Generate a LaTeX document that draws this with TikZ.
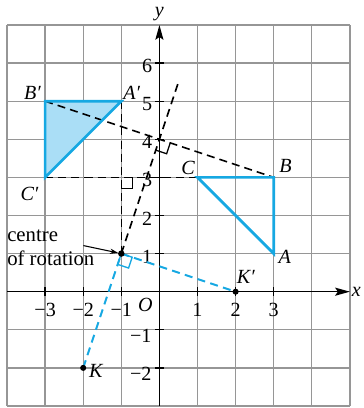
\documentclass[tikz,border=0pt]{standalone}
\usepackage{fontspec}
\setmainfont{Liberation Serif}
\usetikzlibrary{arrows.meta,calc}
\definecolor{gridc}{RGB}{150,150,150}
\definecolor{cyanl}{RGB}{22,168,226}
\definecolor{cyanf}{RGB}{170,222,246}
\tikzset{
  gridline/.style={draw=gridc,line width=0.95pt},
  axisline/.style={draw=black,line width=1.2pt,-{Stealth[length=11pt,width=6pt,inset=2pt]}},
  tickmark/.style={draw=black,line width=1pt},
  triline/.style={draw=cyanl,line width=2pt,line join=miter},
  blk dash/.style={draw=black,line width=1.2pt,dash pattern=on 6pt off 3.8pt},
  blu dash/.style={draw=cyanl,line width=1.5pt,dash pattern=on 6pt off 4pt},
  rightang/.style={draw=black,line width=0.9pt},
  lbl/.style={font=\fontsize{15}{18}\selectfont\itshape,inner sep=0pt},
  num/.style={font=\fontsize{15}{18}\selectfont,inner sep=0pt},
  dotc/.style={fill=black,draw=none}
}
\begin{document}
\begin{tikzpicture}
\useasboundingbox (-4.184,-3.053) rectangle (5.37,7.656);
% grid
\draw[gridline] (-4,-3) grid (5,7);
% points
\coordinate (A) at (3,1);
\coordinate (B) at (3,3);
\coordinate (C) at (1,3);
\coordinate (A1) at (-1,5);
\coordinate (B1) at (-3,5);
\coordinate (C1) at (-3,3);
\coordinate (ctr) at (-1,1);
\coordinate (K) at (-2,-2);
\coordinate (K1) at (2,0);
\coordinate (M) at (0,4);
\coordinate (N) at (-1,3);
\coordinate (top) at (0.5,5.5);
\coordinate (xs) at (-4,0);
\coordinate (xe) at (5,0);
\coordinate (ys) at (0,-3);
\coordinate (ye) at (0,7);
% filled image triangle
\fill[cyanf] (B1) -- (A1) -- (C1) -- cycle;
% axes
\draw[axisline] (xs) -- (xe);
\draw[axisline] (ys) -- (ye);
\foreach \i in {-3,-2,-1,1,2,3} \draw[tickmark] (\i,-0.11) -- (\i,0.11);
\foreach \i in {-2,-1,1,2,3,4,5,6} \draw[tickmark] (-0.11,\i) -- (0.11,\i);
% tick labels
\foreach \i/\t in {-3/{−3},-2/{−2},-1/{−1},1/1,2/2,3/3}
  \node[num,anchor=north] (xl\i) at (\i,-0.29) {\t};
\foreach \i in {1,...,6}
  \node[num,anchor=east] (yl\i) at (-0.18,\i-0.08) {\i};
\foreach \i/\t in {-1/{−1},-2/{−2}}
  \node[num,anchor=east] (yl\i) at (-0.2,\i-0.15) {\t};
\node[lbl] (O) at (-0.37,-0.34) {O};
\node[lbl] (xlab) at (5.17,0) {x};
\node[lbl] (ylab) at (0,7.29) {y};
% dashed construction lines
\draw[blk dash] (B1) -- (B);
\draw[blk dash] (C1) -- (C);
\draw[blk dash] (A1) -- (ctr);
\draw[blk dash] (ctr) -- (top);
\draw[blu dash] (K) -- (ctr);
\draw[blu dash] (ctr) -- (K1);
% right angles
\draw[rightang] (-1,2.7) -- (-0.7,2.7) -- (-0.7,3);
\draw[rightang,shift={(M)},rotate=-18.435] (0.3,0) -- (0.3,-0.3) -- (0,-0.3);
\draw[draw=cyanl,line width=1pt,shift={(ctr)},rotate=-18.435] (0,0) -- (0.3,0) -- (0.3,-0.3) -- (0,-0.3) -- cycle;
% triangles
\draw[triline] (B1) -- (A1) -- (C1) -- cycle;
\draw[triline] (C) -- (B) -- (A) -- cycle;
% dots
\fill[dotc] (ctr) circle (0.085);
\fill[dotc] (K) circle (0.08);
\fill[dotc] (K1) circle (0.08);
% labels
\node[lbl] (lA) at (3.29,0.92) {A};
\node[lbl] (lB) at (3.31,3.31) {B};
\node[lbl] (lC) at (0.75,3.24) {C};
\node[lbl] (lA1) at (-0.73,5.22) {A′};
\node[lbl] (lB1) at (-3.33,5.22) {B′};
\node[lbl] (lC1) at (-3.41,2.57) {C′};
\node[lbl] (lK) at (-1.67,-2.07) {K};
\node[lbl] (lK1) at (2.27,0.38) {K′};
% centre of rotation
\node[num,anchor=north west,align=left,font=\fontsize{15.5}{17.8}\selectfont] (cen) at (-4.0,1.62) {centre\\of rotation};
\coordinate (arst) at (-1.995,1.21);
\draw[line width=0.8pt,-{Stealth[length=6pt,width=4pt]},shorten >=2.5pt] (arst) -- (ctr);
\end{tikzpicture}
\end{document}
